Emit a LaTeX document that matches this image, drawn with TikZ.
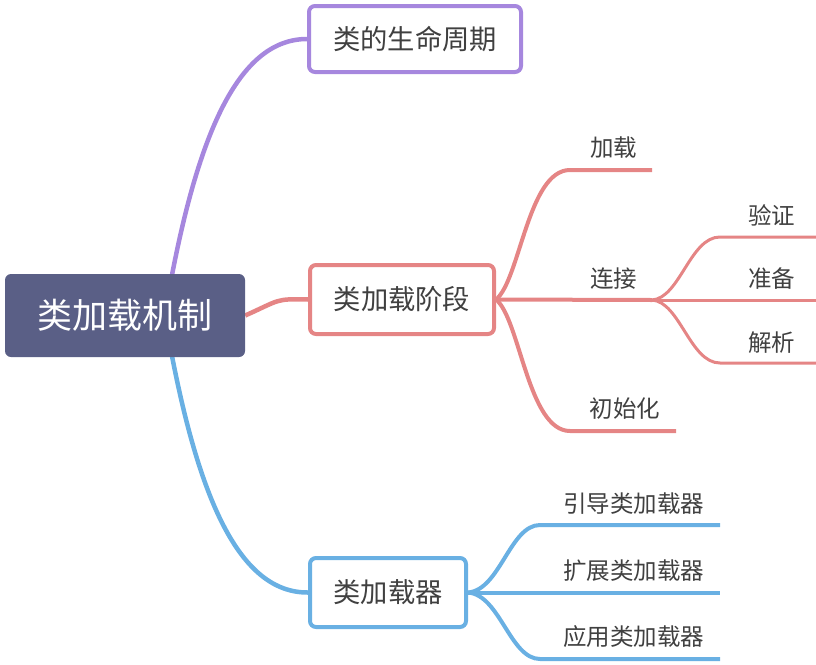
\documentclass[tikz,border=0pt]{standalone}
\usepackage{fontspec}
\usetikzlibrary{backgrounds}
\setmainfont{Noto Sans CJK SC}
\definecolor{rootfill}{HTML}{5A5F86}
\definecolor{cpurple}{HTML}{A687DE}
\definecolor{cred}{HTML}{E58585}
\definecolor{cblue}{HTML}{69B0E3}
\definecolor{ctext}{HTML}{404040}
\begin{document}
\begin{tikzpicture}[x=1pt,y=-1pt,
  rootbox/.style={fill=rootfill, draw=none, rounded corners=6pt, text=white, font=\fontsize{35}{38}\selectfont, inner sep=0pt},
  topicbox/.style={draw=#1, line width=4pt, fill=white, rounded corners=6pt, text=ctext, font=\fontsize{27.3}{30}\selectfont, inner sep=0pt},
  leaf/.style={text=ctext, font=\fontsize{23.5}{26}\selectfont, inner sep=0pt},
  mainline/.style={draw=#1, line width=4.5pt},
  subline/.style={draw=#1, line width=4pt},
  subsubline/.style={draw=#1, line width=3pt}
]
\useasboundingbox (0,0) rectangle (816,664);
% central node
\node[rootbox, minimum width=240pt, minimum height=83pt] (root) at (125,315.5) {类加载机制};
% main topics
\node[topicbox=cpurple, minimum width=212pt, minimum height=66pt] (life) at (415,39) {类的生命周期};
\node[topicbox=cred, minimum width=184pt, minimum height=69pt] (stage) at (402,299.5) {类加载阶段};
\node[topicbox=cblue, minimum width=156pt, minimum height=69pt] (loader) at (388,592.5) {类加载器};
% anchors on root
\coordinate (rtop) at (172,275);
\coordinate (rbot) at (172,356);
% stage leaves
\node[leaf] (jiazai) at (613.5,148) {加载};
\node[leaf] (lianjie) at (613.5,279) {连接};
\node[leaf] (chushi) at (625,409) {初始化};
\coordinate (jiazaiEnd) at (652,170);
\coordinate (lianjieEnd) at (652,300);
\coordinate (chushiEnd) at (676,431);
% connection leaves
\node[leaf] (yanzheng) at (771.5,215) {验证};
\node[leaf] (zhunbei) at (771.5,279) {准备};
\node[leaf] (jiexi) at (771.5,343) {解析};
\coordinate (yzEnd) at (816,237);
\coordinate (zbEnd) at (816,300);
\coordinate (jxEnd) at (816,363);
% loader leaves
\node[leaf] (boot) at (633.5,504) {引导类加载器};
\node[leaf] (ext) at (633.5,571) {扩展类加载器};
\node[leaf] (app) at (633.5,637) {应用类加载器};
\coordinate (bootEnd) at (720,525);
\coordinate (extEnd) at (720,592.5);
\coordinate (appEnd) at (720,659);
\begin{scope}[on background layer]
\draw[mainline=cpurple] (rtop) .. controls (200,130) and (240,39) .. (life.west);
\draw[mainline=cblue] (rbot) .. controls (200,500) and (240,593) .. (loader.west);
\draw[mainline=cred] (root.east) .. controls (280,300) and (275,298.5) .. (stage.west);
\draw[subline=cred] (stage.east) .. controls (520,280) and (528,170) .. (570,170) -- (jiazaiEnd);
\draw[subline=cred] (stage.east) -- (lianjieEnd);
\draw[subline=cred] (stage.east) .. controls (520,319) and (528,431) .. (570,431) -- (chushiEnd);
\draw[subsubline=cred] (lianjieEnd) .. controls (680,298) and (690,237) .. (720,237) -- (yzEnd);
\draw[subsubline=cred] (lianjieEnd) -- (zbEnd);
\draw[subsubline=cred] (lianjieEnd) .. controls (680,302) and (690,363) .. (720,363) -- (jxEnd);
\draw[subline=cblue] (loader.east) .. controls (500,590) and (510,525) .. (540,525) -- (bootEnd);
\draw[subline=cblue] (loader.east) -- (extEnd);
\draw[subline=cblue] (loader.east) .. controls (500,595) and (510,659) .. (540,659) -- (appEnd);
\end{scope}
\end{tikzpicture}
\end{document}
